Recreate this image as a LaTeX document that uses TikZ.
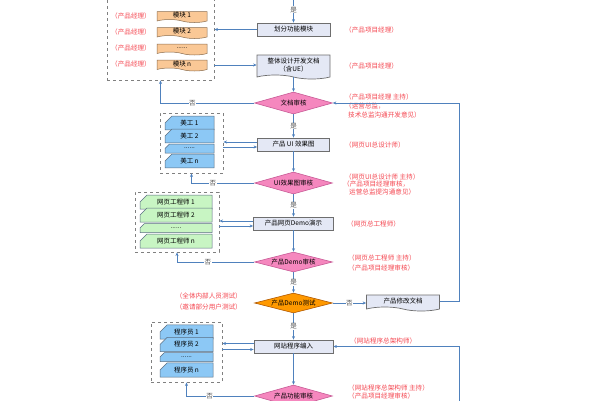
\documentclass[tikz,border=0pt]{standalone}
\usepackage{fontspec}
\setmainfont{Noto Sans CJK SC}
\usetikzlibrary{shapes.geometric, shapes.misc, shapes.symbols, arrows.meta, calc, shadows}
\definecolor{flowblue}{RGB}{79,129,189}
\definecolor{notered}{RGB}{245,70,80}
\definecolor{procfill}{RGB}{228,232,245}
\definecolor{procline}{RGB}{110,110,110}
\definecolor{modfill}{RGB}{250,200,150}
\definecolor{modline}{RGB}{140,110,80}
\definecolor{cardblue}{RGB}{140,200,245}
\definecolor{cardgreen}{RGB}{200,245,195}
\definecolor{cardline}{RGB}{90,110,130}
\definecolor{checkpink}{RGB}{245,135,190}
\definecolor{checkline}{RGB}{200,90,150}
\definecolor{testorange}{RGB}{255,153,0}
\begin{document}
\begin{tikzpicture}[x=1pt, y=-1pt,
    txt/.style={font=\fontsize{6.5}{7.5}\selectfont},
    process/.style={rectangle, draw=procline, line width=0.8pt, fill=procfill, minimum height=13pt, inner sep=1pt, txt, drop shadow={shadow xshift=0.8pt, shadow yshift=-0.8pt, fill=black!40}},
    docbox/.style={tape, tape bend top=none, tape bend bottom=out and in, tape bend height=4pt, draw=procline, line width=0.7pt, fill=procfill, inner sep=1pt, txt, align=center},
    check/.style={diamond, aspect=3.5, draw=checkline, fill=checkpink, line width=0.6pt, minimum width=78pt, minimum height=22pt, inner sep=0.5pt, txt},
    module/.style={tape, tape bend top=none, tape bend bottom=out and in, tape bend height=3pt, draw=modline, fill=modfill, line width=0.5pt, minimum width=50pt, minimum height=11pt, inner sep=0.5pt, txt},
    card/.style={chamfered rectangle, chamfered rectangle corners=north west, chamfered rectangle xsep=9pt, chamfered rectangle ysep=4pt, draw=cardline, line width=0.5pt, minimum height=9pt, inner ysep=0pt, inner xsep=0.5pt, txt},
    group/.style={rectangle, draw=gray, dashed, line width=0.9pt, fill=white},
    flow/.style={draw=flowblue, line width=0.6pt, -{Stealth[length=3.5pt, width=3pt]}},
    yes/.style={fill=white, inner sep=0.5pt, txt, text=black!70},
    note/.style={anchor=west, inner sep=0pt, text=notered, font=\fontsize{6.6}{7.5}\selectfont}
]
\clip (0,0) rectangle (600,400);
\fill[white] (0,0) rectangle (600,400);

\node[group, minimum width=107pt, minimum height=86pt] (grp1) at (160.5,37) {};
\node[module] (mod1) at (182,15.5) {模块 1};
\node[module] (mod2) at (182,31.5) {模块 2};
\node[module] (mod3) at (182,48) {......};
\node[module] (mod4) at (182,64) {模块 n};
\node[note] (own1) at (111,15.5) {（产品经理）};
\node[note] (own2) at (111,31.5) {（产品经理）};
\node[note] (own3) at (111,48) {（产品经理）};
\node[note] (own4) at (111,64) {（产品经理）};

\node[group, minimum width=63pt, minimum height=60pt] (grp2) at (191.5,143) {};
\node[card, fill=cardblue, minimum width=49pt] (art1) at (189.5,123) {美工 1};
\node[card, fill=cardblue, minimum width=49pt] (art2) at (189.5,136) {美工 2};
\node[card, fill=cardblue, minimum width=49pt] (art3) at (189.5,148.5) {......};
\node[card, fill=cardblue, minimum width=49pt] (art4) at (189.5,161) {美工 n};

\node[group, minimum width=84pt, minimum height=60pt] (grp3) at (177,222) {};
\node[card, fill=cardgreen, minimum width=72pt] (web1) at (176,202) {网页工程师 1};
\node[card, fill=cardgreen, minimum width=72pt] (web2) at (176,215) {网页工程师 2};
\node[card, fill=cardgreen, minimum width=72pt] (web3) at (176,228) {......};
\node[card, fill=cardgreen, minimum width=72pt] (web4) at (176,241) {网页工程师 n};

\node[group, minimum width=71pt, minimum height=60pt] (grp4) at (186.5,352) {};
\node[card, fill=cardblue, minimum width=53pt] (prog1) at (186.5,332) {程序员 1};
\node[card, fill=cardblue, minimum width=53pt] (prog2) at (186.5,344.5) {程序员 2};
\node[card, fill=cardblue, minimum width=53pt] (prog3) at (186.5,357) {......};
\node[card, fill=cardblue, minimum width=53pt] (prog4) at (186.5,370) {程序员 n};

\node[process, minimum width=73pt] (split) at (293.5,29.5) {划分功能模块};
\node[docbox, minimum width=73pt, minimum height=24pt] (design) at (293.5,65) {整体设计开发文档\\（含UE）};
\node[check] (docchk) at (293.5,103) {文档审核};
\node[process, minimum width=72pt] (uidraft) at (293.5,144.5) {产品 UI 效果图};
\node[check] (uichk) at (293.5,183) {UI效果图审核};
\node[process, minimum width=80pt] (demo) at (293.5,223.5) {产品网页Demo演示};
\node[check, minimum height=20pt] (demochk) at (293.5,262) {产品Demo审核};
\node[check, fill=testorange, draw=orange!70!black, minimum height=20pt] (demotest) at (293.5,303) {产品Demo测试};
\node[docbox, minimum width=73pt, minimum height=16pt] (revise) at (403,301) {产品修改文档};
\node[process, minimum width=79pt] (coding) at (293.5,346.5) {网站程序编入};
\node[check] (funcchk) at (293.5,396) {产品功能审核};

\node[note] (n1) at (345,29.5) {（产品项目经理）};
\node[note] (n2) at (345,66) {（产品项目经理）};
\node[note] (n3a) at (345,97) {（产品项目经理 主持）};
\node[note] (n3b) at (345,106) {（运营总监，};
\node[note] (n3c) at (348,115) {技术总监沟通开发意见）};
\node[note] (n4) at (345,144.5) {（网页UI总设计师）};
\node[note] (n5a) at (345,177) {（网页UI总设计师 主持）};
\node[note] (n5b) at (343,184.5) {（产品项目经理审核，};
\node[note] (n5c) at (349,192) {运营总监提沟通意见）};
\node[note] (n6) at (347,223.5) {（网页总工程师）};
\node[note] (n7a) at (348,258) {（网页总工程师 主持）};
\node[note] (n7b) at (348,268) {（产品项目经理审核）};
\node[note, anchor=east] (n8a) at (242,296) {（全体内部人员测试）};
\node[note, anchor=east] (n8b) at (242,307) {（邀请部分用户测试）};
\node[note] (n9) at (350,341) {（网站程序总架构师）};
\node[note] (n10a) at (348,388) {（网站程序总架构师 主持）};
\node[note] (n10b) at (348,396.3) {（产品项目经理审核）};

\coordinate (topin) at (293.5,-8);
\coordinate (loopx) at (459,0);
\coordinate (loopin) at (459,410);
\coordinate (uiback) at ($(uidraft.west)+(0,-2.5)$);
\coordinate (uiout) at ($(uidraft.west)+(0,2.5)$);
\coordinate (demoback) at ($(demo.west)+(0,-2.5)$);
\coordinate (demoout) at ($(demo.west)+(0,2.5)$);
\coordinate (codeback) at ($(coding.west)+(0,-3)$);
\coordinate (codeout) at ($(coding.west)+(0,3)$);

\draw[flow] (topin) -- node[yes, pos=0.58] {是} (split);
\draw[flow] (split.west) -- (split.west -| grp1.east);
\draw[flow] (grp1.east |- design.west) -- (design.west);
\draw[flow] (design) -- (docchk);
\draw[flow] (docchk.west) -| node[yes, pos=0.33] {否} (grp1.south);
\draw[flow] (docchk) -- node[yes] {是} (uidraft);
\draw[flow] (uiback) -- (uiback -| grp2.east);
\draw[flow] (uiout -| grp2.east) -- (uiout);
\draw[flow] (uidraft) -- (uichk);
\draw[flow] (uichk.west) -| node[yes, pos=0.33] {否} (grp2.south);
\draw[flow] (uichk) -- node[yes] {是} (demo);
\draw[flow] (demoback) -- (demoback -| grp3.east);
\draw[flow] (demoout -| grp3.east) -- (demoout);
\draw[flow] (demo) -- (demochk);
\draw[flow] (demochk.west) -| node[yes, pos=0.3] {否} (grp3.south);
\draw[flow] (demochk) -- node[yes] {是} (demotest);
\draw[flow] (demotest.east) -- node[yes] {否} (demotest.east -| revise.west);
\draw[flow] (revise.east) -| (loopx |- docchk.east) -- (docchk.east);
\draw[flow] (demotest) -- node[yes] {是} (coding);
\draw[flow] (codeback) -- (codeback -| grp4.east);
\draw[flow] (codeout -| grp4.east) -- (codeout);
\draw[flow] (loopin) |- (coding.east);
\draw[flow] (coding) -- (funcchk);
\draw[flow] (funcchk.west) -| node[yes, pos=0.33] {否} (grp4.south);
\end{tikzpicture}
\end{document}
